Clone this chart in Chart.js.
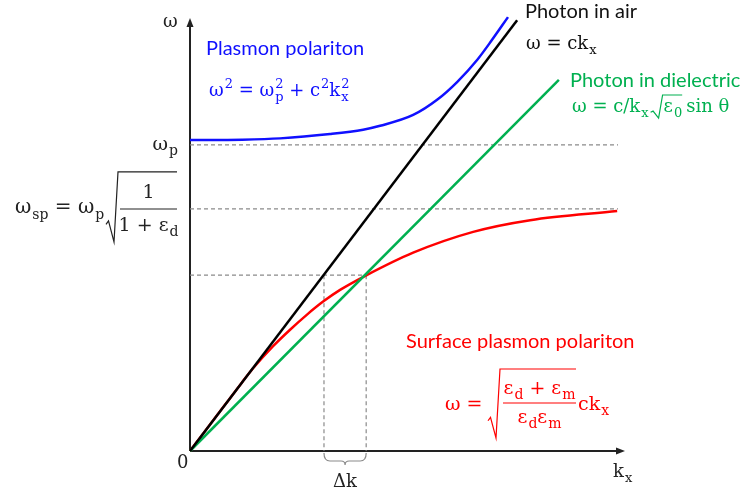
<!DOCTYPE html>
<html>
<head>
<meta charset="utf-8">
<script src="https://cdn.jsdelivr.net/npm/chart.js@4.4.1/dist/chart.umd.min.js"></script>
<style>
  html, body { margin: 0; padding: 0; background: #fff; }
  #wrap { width: 741px; height: 495px; }
</style>
</head>
<body>
<div id="wrap"><canvas id="dispersion"></canvas></div>
<script>
// values, k_x and omega in arbitrary units (0..10 on each axis)
const airK = [0, 7.52];
const airW = [0, 9.95];
const dielK = [0, 8.48];
const dielW = [0, 8.57];
const ppK = [0, 1.2, 2.07, 3.22, 3.98, 4.37, 5.13, 5.68, 6.14, 6.60, 6.94, 7.31];
const ppW = [7.18, 7.19, 7.22, 7.32, 7.42, 7.51, 7.76, 8.11, 8.52, 9.03, 9.49, 10.02];
const sppK = [0, 0.8, 1.2, 1.45, 1.91, 2.30, 2.69, 3.06, 3.45, 4.02, 5.13, 6.51, 7.82, 9.82];
const sppW = [0, 1.06, 1.59, 1.91, 2.42, 2.80, 3.15, 3.45, 3.72, 4.04, 4.58, 5.06, 5.33, 5.54];
const wp = 7.07;        // plasma frequency level
const wsp = 5.59;       // surface plasmon level
const guideEnd = 9.84;  // where the dashed levels stop
const crossW = 4.06;    // level where SPP meets the dielectric line
const deltaK = [3.08, 4.05];

const SANS = 'Lato, "Open Sans", sans-serif';
const SERIF = '"DejaVu Serif", serif';
const GREEN = '#00B050';
const BLUE = '#1010FF';
const RED = '#FF0000';
const GUIDE = '#8a8a8a';

const pts = (xs, ys) => xs.map((x, i) => ({ x: x, y: ys[i] }));

function guide(data) {
  return { data: data, borderColor: GUIDE, borderWidth: 1.2, borderDash: [4, 3],
           pointRadius: 0, fill: false, order: 10 };
}

// draws (or measures) a run of math tokens, returns its width
function drawMath(ctx, x, y, tokens, size, color, dry) {
  const small = Math.round(size * 0.72);
  let cx = x;
  ctx.save();
  ctx.fillStyle = color;
  ctx.textAlign = 'left';
  ctx.textBaseline = 'alphabetic';
  tokens.forEach(tok => {
    if (typeof tok === 'string') tok = { b: tok };
    ctx.font = size + 'px ' + SERIF;
    if (tok.b) {
      if (!dry) ctx.fillText(tok.b, cx, y);
      cx += ctx.measureText(tok.b).width;
    }
    ctx.font = small + 'px ' + SERIF;
    let w = 0;
    if (tok.sub) {
      if (!dry) ctx.fillText(tok.sub, cx + 1, y + size * 0.28);
      w = ctx.measureText(tok.sub).width + 1;
    }
    if (tok.sup) {
      if (!dry) ctx.fillText(tok.sup, cx + 1, y - size * 0.45);
      w = Math.max(w, ctx.measureText(tok.sup).width + 1);
    }
    cx += w;
  });
  ctx.restore();
  return cx - x;
}

function radical(ctx, x, top, bottom, barEnd, color) {
  ctx.save();
  ctx.strokeStyle = color;
  ctx.lineWidth = 1.2;
  ctx.beginPath();
  const h = bottom - top;
  ctx.moveTo(x, bottom - h * 0.25);
  ctx.lineTo(x + 2.5, bottom - h * 0.3);
  ctx.lineTo(x + 8, bottom);
  ctx.lineTo(x + 12, top);
  ctx.lineTo(barEnd, top);
  ctx.stroke();
  ctx.restore();
}

function sansText(ctx, txt, x, y, color, size) {
  ctx.save();
  ctx.font = size + 'px ' + SANS;
  ctx.fillStyle = color;
  ctx.textAlign = 'left';
  ctx.textBaseline = 'alphabetic';
  ctx.fillText(txt, x, y);
  ctx.restore();
}

const axesAndLabels = {
  id: 'axesAndLabels',
  beforeDatasetsDraw(chart) {
    const { ctx, chartArea: a } = chart;
    ctx.save();
    ctx.strokeStyle = '#222';
    ctx.fillStyle = '#222';
    ctx.lineWidth = 2;
    ctx.beginPath();
    ctx.moveTo(a.left, a.bottom);
    ctx.lineTo(a.left, a.top + 6);
    ctx.moveTo(a.left, a.bottom);
    ctx.lineTo(a.right - 6, a.bottom);
    ctx.stroke();
    ctx.beginPath();
    ctx.moveTo(a.left, a.top);
    ctx.lineTo(a.left - 3.5, a.top + 9);
    ctx.lineTo(a.left + 3.5, a.top + 9);
    ctx.closePath();
    ctx.fill();
    ctx.beginPath();
    ctx.moveTo(a.right, a.bottom);
    ctx.lineTo(a.right - 9, a.bottom - 3.5);
    ctx.lineTo(a.right - 9, a.bottom + 3.5);
    ctx.closePath();
    ctx.fill();
    ctx.restore();
  },
  afterDraw(chart) {
    const { ctx, chartArea: a } = chart;
    const xs = chart.scales.x, ys = chart.scales.y;

    // brace under delta k
    const b0 = xs.getPixelForValue(deltaK[0]);
    const b1 = xs.getPixelForValue(deltaK[1]);
    const bm = (b0 + b1) / 2;
    const by = a.bottom + 2;
    ctx.save();
    ctx.strokeStyle = GUIDE;
    ctx.lineWidth = 1.2;
    ctx.beginPath();
    ctx.moveTo(b0, by);
    ctx.quadraticCurveTo(b0, by + 8, b0 + 6, by + 8);
    ctx.lineTo(bm - 4, by + 8);
    ctx.quadraticCurveTo(bm, by + 8, bm, by + 12);
    ctx.quadraticCurveTo(bm, by + 8, bm + 4, by + 8);
    ctx.lineTo(b1 - 6, by + 8);
    ctx.quadraticCurveTo(b1, by + 8, b1, by);
    ctx.stroke();
    ctx.restore();

    // axis labels
    drawMath(ctx, a.left - 27, a.top + 9, ['ω'], 18, '#222');
    drawMath(ctx, a.left - 13, a.bottom + 17, ['0'], 18, '#222');
    drawMath(ctx, a.right - 12, a.bottom + 26, [{ b: 'k', sub: 'x' }], 18, '#222');
    const dkw = drawMath(ctx, 0, 0, ['Δk'], 18, '#222', true);
    drawMath(ctx, bm - dkw / 2, a.bottom + 36, ['Δk'], 18, '#222');

    // omega_p level
    const yp = ys.getPixelForValue(wp);
    const wpw = drawMath(ctx, 0, 0, [{ b: 'ω', sub: 'p' }], 19, '#222', true);
    drawMath(ctx, a.left - 12 - wpw, yp + 5, [{ b: 'ω', sub: 'p' }], 19, '#222');

    // omega_sp level
    const ysp = ys.getPixelForValue(wsp);
    const fracL = a.left - 70, fracR = a.left - 13;
    drawMath(ctx, 15, ysp + 4, [{ b: 'ω', sub: 'sp' }, ' = ', { b: 'ω', sub: 'p' }], 20, '#222');
    radical(ctx, fracL - 14, ysp - 37, ysp + 33, fracR, '#222');
    ctx.save();
    ctx.strokeStyle = '#222';
    ctx.lineWidth = 1.1;
    ctx.beginPath();
    ctx.moveTo(fracL, ysp);
    ctx.lineTo(fracR, ysp);
    ctx.stroke();
    ctx.restore();
    const oneW = drawMath(ctx, 0, 0, ['1'], 19, '#222', true);
    drawMath(ctx, (fracL + fracR) / 2 - oneW / 2, ysp - 11, ['1'], 19, '#222');
    const denW = drawMath(ctx, 0, 0, ['1 + ', { b: 'ε', sub: 'd' }], 19, '#222', true);
    drawMath(ctx, (fracL + fracR) / 2 - denW / 2, ysp + 22, ['1 + ', { b: 'ε', sub: 'd' }], 19, '#222');

    // plasmon polariton
    sansText(ctx, 'Plasmon polariton', 206, 55, BLUE, 20);
    drawMath(ctx, 209, 96, [{ b: 'ω', sup: '2' }, ' = ', { b: 'ω', sub: 'p', sup: '2' }, ' + ',
      { b: 'c', sup: '2' }, { b: 'k', sub: 'x', sup: '2' }], 18, BLUE);

    // photon in air
    sansText(ctx, 'Photon in air', 525, 18, '#111', 20);
    drawMath(ctx, 526, 49, ['ω = c', { b: 'k', sub: 'x' }], 18, '#111');

    // photon in dielectric
    sansText(ctx, 'Photon in dielectric', 570, 87, GREEN, 20);
    let gx = 572;
    gx += drawMath(ctx, gx, 112, ['ω = c/', { b: 'k', sub: 'x' }], 18, GREEN);
    const epsW = drawMath(ctx, 0, 0, [{ b: 'ε', sub: '0' }], 18, GREEN, true);
    radical(ctx, gx + 2, 95, 118, gx + 15 + epsW, GREEN);
    drawMath(ctx, gx + 15, 112, [{ b: 'ε', sub: '0' }], 18, GREEN);
    drawMath(ctx, gx + 19 + epsW, 112, ['sin θ'], 18, GREEN);

    // surface plasmon polariton
    sansText(ctx, 'Surface plasmon polariton', 406, 348, RED, 20);
    drawMath(ctx, 445, 410, ['ω = '], 19, RED);
    const nL = 503, nR = 576;
    radical(ctx, 488, 369, 438, nR, RED);
    ctx.save();
    ctx.strokeStyle = RED;
    ctx.lineWidth = 1.1;
    ctx.beginPath();
    ctx.moveTo(nL, 403);
    ctx.lineTo(nR, 403);
    ctx.stroke();
    ctx.restore();
    const numT = [{ b: 'ε', sub: 'd' }, ' + ', { b: 'ε', sub: 'm' }];
    const denT = [{ b: 'ε', sub: 'd' }, { b: 'ε', sub: 'm' }];
    const nW = drawMath(ctx, 0, 0, numT, 19, RED, true);
    const dW = drawMath(ctx, 0, 0, denT, 19, RED, true);
    drawMath(ctx, (nL + nR) / 2 - nW / 2, 394, numT, 19, RED);
    drawMath(ctx, (nL + nR) / 2 - dW / 2, 423, denT, 19, RED);
    drawMath(ctx, 578, 410, ['c', { b: 'k', sub: 'x' }], 19, RED);
  }
};

new Chart(document.getElementById('dispersion'), {
  type: 'line',
  data: {
    datasets: [
      { data: pts(airK, airW), borderColor: '#000', borderWidth: 2.5, pointRadius: 0, order: 0 },
      { data: pts(dielK, dielW), borderColor: GREEN, borderWidth: 2.5, pointRadius: 0, order: 1 },
      { data: pts(sppK, sppW), borderColor: RED, borderWidth: 2.5, pointRadius: 0,
        cubicInterpolationMode: 'monotone', order: 2 },
      { data: pts(ppK, ppW), borderColor: BLUE, borderWidth: 2.5, pointRadius: 0,
        cubicInterpolationMode: 'monotone', order: 1 },
      guide([{ x: 0, y: wp }, { x: guideEnd, y: wp }]),
      guide([{ x: 0, y: wsp }, { x: guideEnd, y: wsp }]),
      guide([{ x: 0, y: crossW }, { x: deltaK[1], y: crossW }]),
      guide([{ x: deltaK[0], y: crossW }, { x: deltaK[0], y: 0 }]),
      guide([{ x: deltaK[1], y: crossW }, { x: deltaK[1], y: 0 }])
    ]
  },
  options: {
    responsive: true,
    maintainAspectRatio: false,
    animation: false,
    clip: false,
    layout: { padding: { left: 190, right: 116, top: 18, bottom: 44 } },
    plugins: { legend: { display: false }, tooltip: { enabled: false } },
    scales: {
      x: { type: 'linear', min: 0, max: 10, display: false },
      y: { type: 'linear', min: 0, max: 10, display: false }
    }
  },
  plugins: [axesAndLabels]
});
</script>
</body>
</html>
